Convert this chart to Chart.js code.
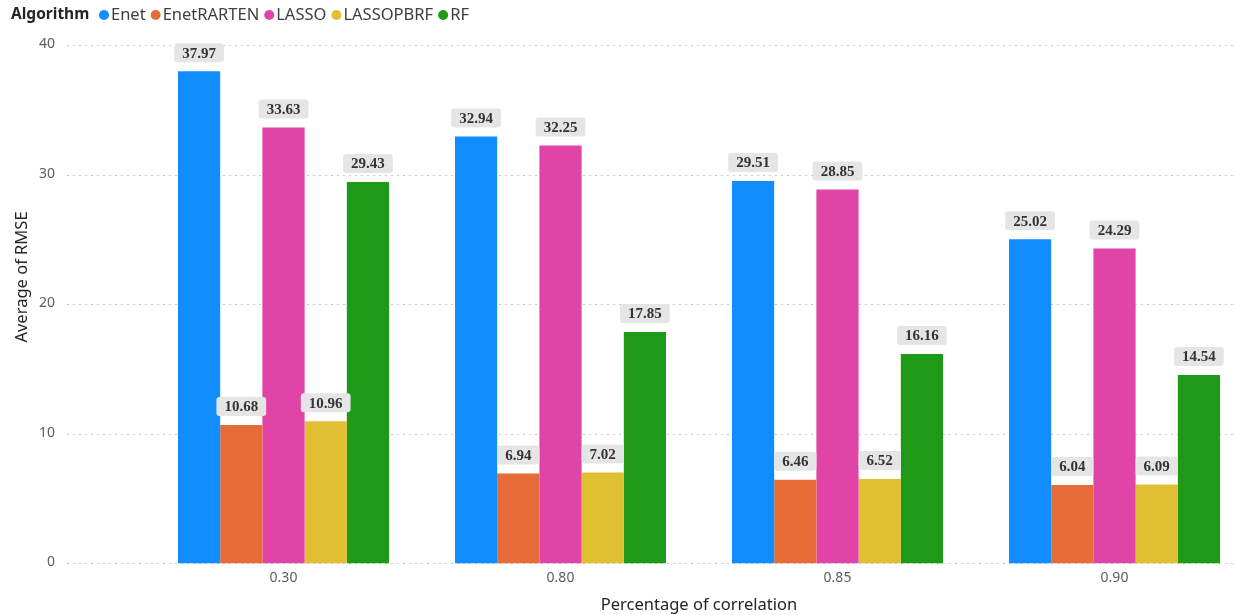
<!DOCTYPE html>
<html lang="en">
<head>
    <meta charset="UTF-8">
    <title>Average of RMSE by Percentage of correlation</title>
    <script src="https://cdn.jsdelivr.net/npm/chart.js"></script>
    <style>
        html, body { margin: 0; padding: 0; background: #fff; overflow: hidden; }
        #outer { width: 1236px; height: 615px; overflow: hidden; }
        #wrap { width: 1253px; height: 615px; position: relative; }
    </style>
</head>
<body>
    <div id="outer"><div id="wrap"><canvas id="rmseChart"></canvas></div></div>
    <script>
        // correlation levels on the x axis
        const correlations = ['0.30', '0.80', '0.85', '0.90'];
        const algorithms = ['Enet', 'EnetRARTEN', 'LASSO', 'LASSOPBRF', 'RF'];
        const colors = ['#118DFF', '#E66C37', '#E044A7', '#E1BF32', '#1F9A18'];

        // average RMSE per algorithm
        const enet = [37.97, 32.94, 29.51, 25.02];
        const enetRarten = [10.68, 6.94, 6.46, 6.04];
        const lasso = [33.63, 32.25, 28.85, 24.29];
        const lassoPbrf = [10.96, 7.02, 6.52, 6.09];
        const rf = [29.43, 17.85, 16.16, 14.54];

        const yTicks = [0, 10, 20, 30, 40];

        const uiFont = "'Noto Sans', 'DejaVu Sans', sans-serif";
        const series = [enet, enetRarten, lasso, lassoPbrf, rf];

        // dotted horizontal gridlines and the y tick labels, placed left of the bars
        const dottedGrid = {
            id: 'dottedGrid',
            beforeDatasetsDraw(chart) {
                const ctx = chart.ctx;
                const y = chart.scales.y;
                ctx.save();
                ctx.strokeStyle = '#c9c9c9';
                ctx.lineWidth = 1;
                ctx.setLineDash([2, 4]);
                ctx.font = '14px ' + uiFont;
                ctx.fillStyle = '#605E5C';
                ctx.textAlign = 'right';
                ctx.textBaseline = 'middle';
                yTicks.forEach(v => {
                    const py = Math.round(y.getPixelForValue(v)) + 0.5;
                    ctx.beginPath();
                    ctx.moveTo(67, py);
                    ctx.lineTo(1236, py);
                    ctx.stroke();
                    ctx.fillText(String(v), 55, py - 1);
                });
                ctx.restore();
            }
        };

        // value labels in grey rounded boxes above each bar
        const barLabels = {
            id: 'barLabels',
            afterDatasetsDraw(chart) {
                const ctx = chart.ctx;
                ctx.save();
                ctx.font = "bold 15px 'Liberation Serif', serif";
                ctx.textAlign = 'center';
                ctx.textBaseline = 'middle';
                chart.data.datasets.forEach((ds, i) => {
                    chart.getDatasetMeta(i).data.forEach((bar, j) => {
                        const txt = ds.data[j].toFixed(2);
                        const w = ctx.measureText(txt).width + 16;
                        const h = 19;
                        const bx = bar.x - w / 2;
                        const by = bar.y - 9 - h;
                        ctx.fillStyle = '#e5e5e5';
                        ctx.beginPath();
                        ctx.roundRect(bx, by, w, h, 3);
                        ctx.fill();
                        ctx.fillStyle = '#333333';
                        ctx.fillText(txt, bar.x, by + h / 2 + 1);
                    });
                });
                ctx.restore();
            }
        };

        // legend row with a bold title, plus the rotated y title
        const legendRow = {
            id: 'legendRow',
            afterDraw(chart) {
                const ctx = chart.ctx;
                ctx.save();
                ctx.textBaseline = 'middle';
                ctx.textAlign = 'left';
                const cy = 15;
                ctx.font = 'bold 15.5px ' + uiFont;
                ctx.fillStyle = '#252423';
                ctx.fillText('Algorithm', 11, cy);
                let x = 99;
                ctx.font = '16.5px ' + uiFont;
                chart.data.datasets.forEach(ds => {
                    ctx.fillStyle = ds.backgroundColor;
                    ctx.beginPath();
                    ctx.arc(x + 5, cy, 5, 0, Math.PI * 2);
                    ctx.fill();
                    x += 12;
                    ctx.fillStyle = '#404040';
                    ctx.fillText(ds.label, x, cy);
                    x += ctx.measureText(ds.label).width + 5;
                });

                ctx.translate(22, 277);
                ctx.rotate(-Math.PI / 2);
                ctx.textAlign = 'center';
                ctx.font = '16.5px ' + uiFont;
                ctx.fillStyle = '#252423';
                ctx.fillText('Average of RMSE', 0, 0);
                ctx.restore();
            }
        };

        new Chart(document.getElementById('rmseChart'), {
            type: 'bar',
            data: {
                labels: correlations,
                datasets: algorithms.map((name, i) => ({
                    label: name,
                    data: series[i],
                    backgroundColor: colors[i],
                    borderWidth: 0,
                    categoryPercentage: 0.762,
                    barPercentage: 1
                }))
            },
            options: {
                responsive: true,
                maintainAspectRatio: false,
                animation: false,
                layout: { padding: { top: 45, right: 0, bottom: 0, left: 0 } },
                plugins: {
                    legend: { display: false },
                    tooltip: { enabled: false }
                },
                scales: {
                    x: {
                        grid: { display: false, drawTicks: false },
                        border: { display: false },
                        ticks: { color: '#605E5C', font: { family: uiFont, size: 14 }, padding: 6 },
                        title: {
                            display: true,
                            text: 'Percentage of correlation',
                            color: '#252423',
                            font: { family: uiFont, size: 16.5 },
                            padding: { top: 3, bottom: 0 }
                        }
                    },
                    y: {
                        min: 0,
                        max: 40,
                        afterFit(scale) { scale.width = 145; },
                        afterBuildTicks(scale) { scale.ticks = yTicks.map(v => ({ value: v })); },
                        grid: { display: false, drawTicks: false },
                        border: { display: false },
                        ticks: { display: false }
                    }
                }
            },
            plugins: [dottedGrid, barLabels, legendRow]
        });
    </script>
</body>
</html>
